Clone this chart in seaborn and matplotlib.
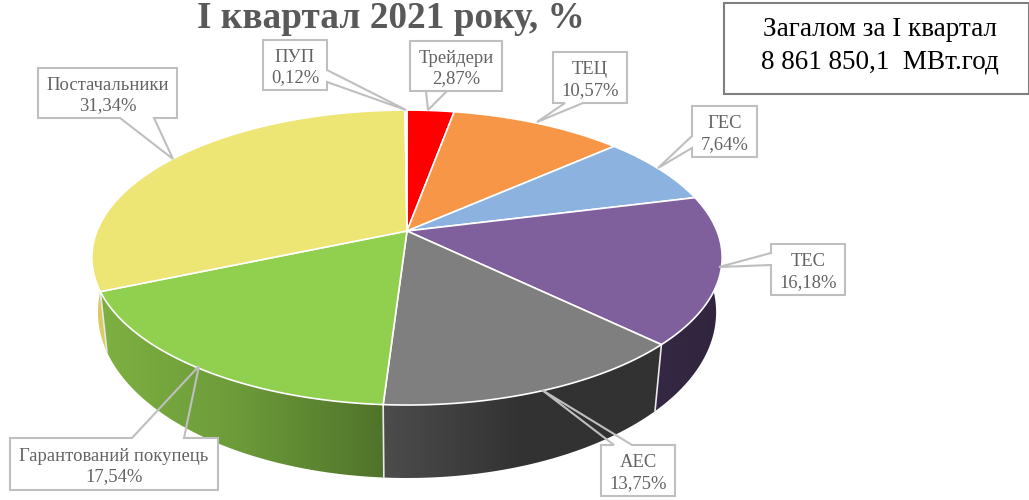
import numpy as np
import seaborn as sns
import matplotlib.pyplot as plt
from matplotlib.patches import Polygon

# частки, за годинниковою стрілкою від верхньої точки
names = ['Трейдери', 'ТЕЦ', 'ГЕС', 'ТЕС', 'АЕС', 'Гарантований покупець', 'Постачальники', 'ПУП']
shares = [2.87, 10.57, 7.64, 16.18, 13.75, 17.54, 31.34, 0.12]
share_labels = ['2,87%', '10,57%', '7,64%', '16,18%', '13,75%', '17,54%', '31,34%', '0,12%']

title = 'I квартал 2021 року, %'
total_text = 'Загалом за I квартал\n8 861 850,1  МВт.год'

top_colors = ['#FF0000', '#F79646', '#8CB2E0', '#7F609C', '#7F7F7F', '#90D04E', '#EDE574', '#C9D8EA']
wall_left = ['#CC0000', '#C67538', '#7090B4', '#352845', '#4C4C4C', '#7DB041', '#DCCB62', '#A0B0C0']
wall_mid = ['#CC0000', '#C67538', '#7090B4', '#33263F', '#323232', '#6C9A3A', '#DCCB62', '#A0B0C0']
wall_right = ['#CC0000', '#C67538', '#7090B4', '#31243F', '#323232', '#50732A', '#DCCB62', '#A0B0C0']

sns.set_theme(style='white')
plt.rcParams['font.family'] = ['Liberation Serif', 'DejaVu Serif']

# рамки підписів: x0, x1, y0, y1 і хвіст (три точки)
boxes = [
    (410, 502, 41, 91, [(426, 91), (428, 110), (447, 91)]),
    (553, 627, 52, 103, [(583, 103), (537, 122), (565, 103)]),
    (692, 757, 106, 157, [(692, 136), (658, 168), (692, 148)]),
    (771, 845, 244, 295, [(771, 253), (719, 267), (771, 265)]),
    (601, 675, 445, 496, [(632, 445), (542, 390), (614, 445)]),
    (10, 218, 438, 490, [(184, 438), (199, 366), (132, 438)]),
    (38, 177, 68, 118, [(154, 118), (173, 159), (120, 118)]),
    (263, 327, 40, 90, [(327, 70), (406, 110), (327, 82)]),
]

fig = plt.figure(figsize=(10.29, 5.00), dpi=100)
ax = fig.add_axes([0, 0, 1, 1])
ax.axis('off')

CX, CY = 407, 231


def top_xy(t):
    u, v = np.sin(t), np.cos(t)
    d = 1 + 0.18 * v
    return CX + 310 * u / d, CY - 142.7 * v / d


def bottom_xy(t):
    u, v = np.sin(t), np.cos(t)
    d = 1 + 0.17 * v
    return CX + 304.6 * u / d, CY - (152 * v - 53) / d


edges = np.cumsum([0] + shares) / sum(shares) * 2 * np.pi

# бічна стінка: горизонтальний градієнт, обрізаний по контуру сектора
for i in range(len(shares)):
    ts = np.linspace(edges[i], edges[i + 1], max(4, int(shares[i] * 8)))
    x1, y1 = top_xy(ts)
    x2, y2 = bottom_xy(ts[::-1])
    px, py = np.r_[x1, x2], np.r_[y1, y2]
    grad = np.array(sns.blend_palette([wall_left[i], wall_mid[i], wall_right[i]], 64))[None, :, :]
    clip = Polygon(np.c_[px, py], closed=True, transform=ax.transData, facecolor='none', edgecolor='none')
    ax.add_patch(clip)
    im = ax.imshow(grad, extent=(px.min(), px.max(), py.max(), py.min()), aspect='auto', zorder=1,
                   interpolation='bilinear')
    im.set_clip_path(clip)

ax.set_xlim(0, 1029)
ax.set_ylim(500, 0)

for e in edges[:-1]:
    x1, y1 = top_xy(e)
    x2, y2 = bottom_xy(e)
    ax.plot([x1, x2], [y1, y2], color='#e8e8e8', lw=1.2, zorder=2)

# верхня поверхня
for i in range(len(shares)):
    ts = np.linspace(edges[i], edges[i + 1], max(3, int(shares[i] * 5)))
    x1, y1 = top_xy(ts)
    ax.fill(np.r_[CX, x1], np.r_[CY, y1], facecolor=top_colors[i], edgecolor='white', lw=1.2, zorder=3)

# підписи-виноски: білий прямокутник, хвіст без заливки
for name, lab, (x0, x1, y0, y1, tail) in zip(names, share_labels, boxes):
    a, tip, b = tail
    if a[1] == b[1]:
        if a[1] == y1:
            pts = [(x0, y0), (x1, y0), (x1, y1), a, tip, b, (x0, y1)]
        else:
            pts = [(x0, y1), (x1, y1), (x1, y0), a, tip, b, (x0, y0)]
    elif a[0] == x1:
        pts = [(x0, y0), (x1, y0), a, tip, b, (x1, y1), (x0, y1)]
    else:
        pts = [(x1, y0), (x0, y0), a, tip, b, (x0, y1), (x1, y1)]
    ax.fill([x0, x1, x1, x0], [y0, y0, y1, y1], facecolor='white', edgecolor='none', zorder=4)
    px, py = zip(*(pts + pts[:1]))
    ax.plot(px, py, color='#bfbfbf', lw=1.5, zorder=4.5, solid_joinstyle='miter')
    ax.text((x0 + x1) / 2, (y0 + y1) / 2 + 2.5, f'{name}\n{lab}', ha='center', va='center',
            fontsize=13.4, color='#636363', linespacing=1.26, zorder=5)

ax.text(391, 28, title, ha='center', va='baseline', fontsize=26.8, fontweight='bold', color='#595959', zorder=5)

ax.fill([724, 1029, 1029, 724], [3, 3, 94, 94], facecolor='white', edgecolor='#7f7f7f', lw=1.5, zorder=4)
ax.text(880, 46, total_text, ha='center', va='center', fontsize=19.5, color='black', linespacing=1.4, zorder=5)

fig.savefig('out.png', dpi=100)
